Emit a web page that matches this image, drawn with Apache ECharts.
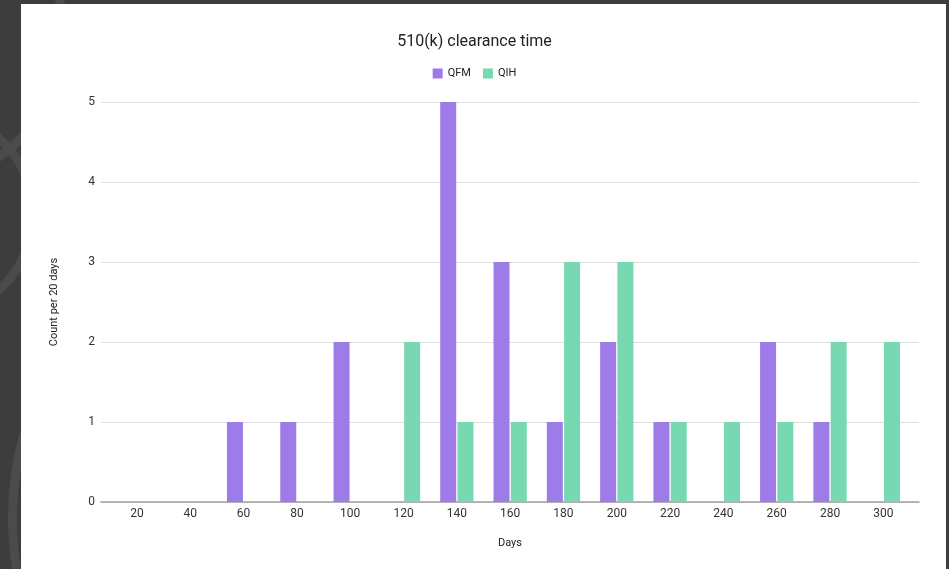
<!DOCTYPE html>
<html>
<head>
<meta charset="utf-8">
<script src="https://cdn.jsdelivr.net/npm/echarts@6/dist/echarts.min.js"></script>
<style>
  html, body { margin: 0; padding: 0; width: 949px; height: 569px; overflow: hidden; background: #3d3d3d; }
  .ring { position: absolute; border-radius: 50%; border: 9px solid #4b4b4b; }
  #card { position: absolute; left: 21px; top: 4px; width: 925px; height: 565px; background: #ffffff; }
  #chart { position: absolute; left: 0; top: 0; width: 949px; height: 569px; }
</style>
</head>
<body>
<div class="ring" style="left:8px; top:230px; width:500px; height:560px;"></div>
<div class="ring" style="left:-240px; top:-120px; width:290px; height:290px;"></div>
<div class="ring" style="left:-170px; top:110px; width:190px; height:190px;"></div>
<div id="card"></div>
<div id="chart"></div>
<script>
// Days bins (20-day buckets) and counts per product code
const days = ['20', '40', '60', '80', '100', '120', '140', '160', '180', '200', '220', '240', '260', '280', '300'];
const qfm  = [0, 0, 1, 1, 2, 0, 5, 3, 1, 2, 1, 0, 2, 1, 0];
const qih  = [0, 0, 0, 0, 0, 2, 1, 1, 3, 3, 1, 1, 1, 2, 2];
const yTicks = { min: 0, max: 5, interval: 1 };

const font = 'Roboto, "Liberation Sans", Arial, sans-serif';
const chart = echarts.init(document.getElementById('chart'), null, { renderer: 'canvas' });

chart.setOption({
  backgroundColor: 'transparent',
  animation: false,
  textStyle: { fontFamily: font },
  title: {
    text: '510(k) clearance time',
    left: 'center',
    top: 29,
    textStyle: { fontSize: 16, fontWeight: 'normal', color: '#222222', fontFamily: font }
  },
  legend: {
    top: 63,
    left: 'center',
    itemWidth: 10,
    itemHeight: 10,
    itemGap: 12,
    icon: 'rect',
    textStyle: { fontSize: 11, color: '#222222', fontFamily: font },
    data: ['QFM', 'QIH']
  },
  grid: [
    // outer frame: gridlines, zero line and axis titles
    { left: 101, right: 30, top: 102, bottom: 67 },
    // inner band area holding the bars
    { left: 110.3, right: 39, top: 102, bottom: 67 }
  ],
  xAxis: [
    {
      gridIndex: 0, type: 'value', min: 0, max: 1,
      name: 'Days', nameLocation: 'middle', nameGap: 36,
      nameTextStyle: { fontSize: 11, color: '#222222', fontFamily: font },
      axisLine: { show: true, onZero: false, lineStyle: { color: '#9e9e9e', width: 1.5 } },
      axisTick: { show: false }, axisLabel: { show: false }, splitLine: { show: false }
    },
    {
      gridIndex: 1, type: 'category', data: days,
      axisLine: { show: false }, axisTick: { show: false },
      axisLabel: { margin: 6, fontSize: 12, color: '#333333', fontFamily: font }
    }
  ],
  yAxis: [
    {
      gridIndex: 0, type: 'value', min: yTicks.min, max: yTicks.max, interval: yTicks.interval,
      name: 'Count per 20 days', nameLocation: 'middle', nameGap: 41,
      nameTextStyle: { fontSize: 11, color: '#222222', fontFamily: font },
      axisLine: { show: false }, axisTick: { show: false },
      axisLabel: { margin: 6, fontSize: 12, color: '#333333', fontFamily: font },
      splitLine: { lineStyle: { color: '#e0e0e0', width: 1 } }
    },
    {
      gridIndex: 1, type: 'value', min: yTicks.min, max: yTicks.max, interval: yTicks.interval,
      show: false
    }
  ],
  series: [
    {
      name: 'QFM', type: 'bar', xAxisIndex: 1, yAxisIndex: 1,
      data: qfm, barWidth: 16, barGap: '8%',
      itemStyle: { color: '#9d7ce9' }
    },
    {
      name: 'QIH', type: 'bar', xAxisIndex: 1, yAxisIndex: 1,
      data: qih, barWidth: 16, barGap: '8%',
      itemStyle: { color: '#77d8b1' }
    }
  ]
});
</script>
</body>
</html>
